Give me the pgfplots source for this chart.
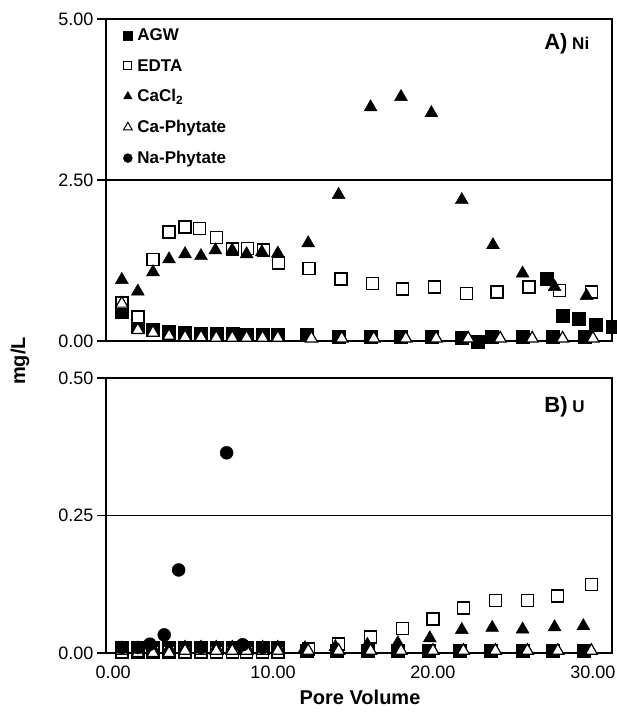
\documentclass[border=0pt]{standalone}
\usepackage{fontspec}
\setmainfont{Liberation Sans}
\usepackage{pgfplots}
\pgfplotsset{compat=1.18}

\pgfplotsset{
  agw/.style={only marks, mark=square*, mark size=6.5pt, mark options={draw=black, fill=black}},
  edta/.style={only marks, mark=square*, mark size=6pt, mark options={draw=black, fill=white, line width=1.4pt}},
  cacl/.style={only marks, mark=triangle*, mark size=7.5pt, mark options={draw=black, fill=black}},
  caphy/.style={only marks, mark=triangle*, mark size=7pt, mark options={draw=black, fill=white, line width=1.2pt}},
  naphy/.style={only marks, mark=*, mark size=6.5pt, mark options={draw=black, fill=black}},
  panel/.style={
    scale only axis, width=506pt, clip=false,
    xmin=-0.44, xmax=31.19,
    axis line style={line width=1.2pt},
    tick align=outside, ytick pos=left, xtick pos=bottom,
    major tick length=9pt,
    every tick/.style={black, line width=1.2pt},
    xtick style={draw=none},
    ymajorgrids, grid style={black, line width=1.1pt},
    tick label style={font=\fontsize{18}{20}\selectfont},
    /pgf/number format/assume math mode=true,
    /pgf/number format/.cd, fixed, fixed zerofill, precision=2,
  },
}

\begin{document}
\begin{tikzpicture}
\path[use as bounding box] (0pt,0pt) rectangle (617pt,712pt);

% ---------- A) Ni ----------
\begin{axis}[panel, at={(106pt,371pt)}, anchor=south west, height=322pt,
  ymin=0, ymax=5, ytick={0,2.5,5}, xtick={0,10,20,30}, xticklabels={},
  legend style={at={(0.028,0.982)}, anchor=north west, draw=none, fill=none,
    font=\fontsize{17}{19}\bfseries\selectfont, row sep=13pt, column sep=3pt},
  legend cell align=left,
]
\addlegendimage{only marks, mark=square*, mark size=4.5pt, mark options={fill=black}}
\addlegendentry{AGW}
\addlegendimage{only marks, mark=square*, mark size=4pt, mark options={fill=white, line width=1pt}}
\addlegendentry{EDTA}
\addlegendimage{only marks, mark=triangle*, mark size=5pt, mark options={fill=black}}
\addlegendentry{CaCl\textsubscript{2}}
\addlegendimage{only marks, mark=triangle*, mark size=5pt, mark options={fill=white, line width=1pt}}
\addlegendentry{Ca-Phytate}
\addlegendimage{only marks, mark=*, mark size=4.5pt, mark options={fill=black}}
\addlegendentry{Na-Phytate}

\addplot[agw, forget plot] coordinates {
 (0.55,0.45) (1.55,0.22) (2.5,0.18) (3.5,0.15) (4.5,0.13) (5.5,0.12) (6.45,0.12)
 (7.45,0.11) (8.35,0.10) (9.35,0.10) (10.3,0.10)
 (12.1,0.09) (14.1,0.06) (16.1,0.06) (18.0,0.06) (19.9,0.06) (21.8,0.05)
 (22.8,-0.01) (23.7,0.06) (25.6,0.06) (27.5,0.06) (29.5,0.06)
 (27.1,0.96) (28.1,0.40) (29.1,0.34) (30.2,0.25) (31.25,0.22)
};
\addplot[edta, forget plot] coordinates {
 (0.55,0.59) (1.55,0.37) (2.5,1.27) (3.5,1.69) (4.5,1.77) (5.4,1.75) (6.45,1.61)
 (7.45,1.43) (8.4,1.44) (9.4,1.41) (10.35,1.21)
 (12.25,1.13) (14.25,0.96) (16.2,0.89) (18.1,0.81) (20.1,0.84) (22.1,0.74)
 (24.0,0.76) (26.0,0.84) (27.9,0.78) (29.9,0.76)
};
\addplot[cacl, forget plot] coordinates {
 (0.55,0.95) (1.55,0.77) (2.5,1.07) (3.5,1.27) (4.5,1.35) (5.5,1.32) (6.4,1.41)
 (7.45,1.41) (8.35,1.35) (9.3,1.38) (10.3,1.36)
 (12.2,1.52) (14.1,2.27) (16.1,3.63) (18.0,3.79) (19.9,3.54) (21.8,2.19)
 (23.75,1.49) (25.6,1.05) (27.6,0.84) (29.6,0.70)
};
\addplot[caphy, forget plot] coordinates {
 (0.55,0.58) (1.55,0.17) (2.5,0.13) (3.5,0.08) (4.5,0.06) (5.5,0.06) (6.45,0.05)
 (7.45,0.05) (8.35,0.05) (9.35,0.05) (10.3,0.05)
 (12.4,0.04) (14.3,0.04) (16.3,0.04) (18.3,0.04) (20.2,0.04) (22.2,0.04)
 (24.2,0.04) (26.2,0.04) (28.1,0.04) (30.0,0.04)
};
\node[anchor=base east] at (axis description cs:0.962,0.905)
 {\fontsize{22}{24}\bfseries\selectfont A)\fontsize{17}{20}\selectfont\ Ni};
\end{axis}

% ---------- B) U ----------
\begin{axis}[panel, at={(106pt,59pt)}, anchor=south west, height=275pt,
  ymin=0, ymax=0.5, ytick={0,0.25,0.5}, xtick={0,10,20,30},
]
\addplot[agw] coordinates {
 (0.55,0.010) (1.55,0.010) (2.5,0.010) (3.5,0.010) (4.5,0.010) (5.5,0.010) (6.45,0.010)
 (7.45,0.010) (8.35,0.010) (9.35,0.010) (10.3,0.010)
 (12.1,0.005) (14.0,0.005) (15.9,0.005) (17.8,0.005) (19.75,0.005) (21.7,0.005)
 (23.6,0.005) (25.6,0.005) (27.5,0.005) (29.4,0.005)
};
\addplot[edta] coordinates {
 (0.55,0.002) (1.55,0.002) (2.5,0.002) (3.5,0.002) (4.5,0.002) (5.5,0.002) (6.45,0.002)
 (7.45,0.002) (8.35,0.002) (9.35,0.002) (10.3,0.002)
 (12.2,0.007) (14.1,0.016) (16.1,0.029) (18.1,0.044) (20.0,0.062) (21.9,0.082)
 (23.9,0.095) (25.9,0.095) (27.8,0.104) (29.9,0.125)
};
\addplot[cacl] coordinates {
 (0.55,0.008) (1.55,0.008) (2.5,0.008) (3.5,0.008) (4.5,0.010) (5.5,0.010) (6.45,0.010)
 (7.45,0.010) (8.35,0.010) (9.35,0.010) (10.3,0.010)
 (12.0,0.009) (13.9,0.011) (15.9,0.015) (17.8,0.018) (19.8,0.027) (21.8,0.042)
 (23.7,0.046) (25.6,0.043) (27.6,0.047) (29.4,0.049)
};
\addplot[caphy] coordinates {
 (0.55,0.004) (1.55,0.000) (2.5,0.000) (3.5,0.000) (4.5,0.004) (5.5,0.004) (6.45,0.004)
 (7.45,0.004) (8.35,0.004) (9.35,0.004) (10.3,0.004)
 (12.2,0.004) (14.1,0.004) (16.1,0.004) (18.0,0.004) (20.0,0.004) (21.9,0.004)
 (23.9,0.004) (25.9,0.004) (27.8,0.004) (29.9,0.004)
};
\addplot[naphy] coordinates {
 (0.55,0.010) (1.55,0.010) (2.3,0.016) (3.2,0.033) (4.1,0.151) (5.5,0.010)
 (7.1,0.364) (8.1,0.015) (9.35,0.010)
};
\node[anchor=base east] at (axis description cs:0.953,0.873)
 {\fontsize{22}{24}\bfseries\selectfont B)\fontsize{17}{20}\selectfont\ U};
\end{axis}

\node[rotate=90, font=\fontsize{20}{24}\bfseries\selectfont] at (20pt,351pt) {mg/L};
\node[anchor=base, font=\fontsize{20}{24}\bfseries\selectfont] at (360pt,7pt) {Pore Volume};
\end{tikzpicture}
\end{document}
